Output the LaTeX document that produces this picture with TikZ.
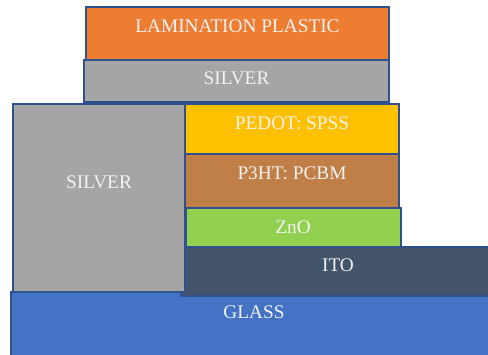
\documentclass[tikz,border=0pt]{standalone}
\usepackage{fontspec}
\setmainfont{Liberation Serif}
\usetikzlibrary{positioning}
\definecolor{LamOrange}{RGB}{237,125,49}
\definecolor{SilverGray}{RGB}{165,165,165}
\definecolor{PedotGold}{RGB}{255,192,0}
\definecolor{BlendBrown}{RGB}{193,127,72}
\definecolor{ZnoGreen}{RGB}{146,208,80}
\definecolor{ItoSlate}{RGB}{68,84,106}
\definecolor{GlassBlue}{RGB}{68,114,196}
\definecolor{EdgeBlue}{RGB}{47,82,143}
\tikzset{
  layer/.style={draw=EdgeBlue, line width=1.1pt},
  lbl/.style={font=\fontsize{19.3}{21}\selectfont, text=white!95!black, inner sep=0pt}
}
\begin{document}
\begin{tikzpicture}[x=1pt, y=-1pt]
  \useasboundingbox (0,0) rectangle (488,355);

  % Stack, bottom layer first
  \draw[layer, fill=GlassBlue]  (11,292)  rectangle (497,358);
  \draw[layer, fill=ItoSlate]   (181,247) rectangle (497,296);
  \draw[layer, fill=SilverGray] (13,104)  rectangle (185,292);
  \draw[layer, fill=ZnoGreen]   (186,208) rectangle (401,247);
  \draw[layer, fill=BlendBrown] (185,154) rectangle (399,208);
  \draw[layer, fill=PedotGold]  (185,104) rectangle (399,154);
  \draw[layer, fill=SilverGray] (84,60)   rectangle (389,102);
  \draw[layer, fill=LamOrange]  (86,7)    rectangle (389,60);

  % Layer names
  \node[lbl] (lam)    at (237.5,26) {LAMINATION PLASTIC};
  \node[lbl] (agtop)  at (236.5,78) {SILVER};
  \node[lbl] (pedot)  at (292,123)  {PEDOT: SPSS};
  \node[lbl] (p3ht)   at (292,173)  {P3HT: PCBM};
  \node[lbl] (agside) at (99,182)   {SILVER};
  \node[lbl] (zno)    at (293,227)  {ZnO};
  \node[lbl] (ito)    at (338,265)  {ITO};
  \node[lbl] (glass)  at (254,312)  {GLASS};
\end{tikzpicture}
\end{document}
